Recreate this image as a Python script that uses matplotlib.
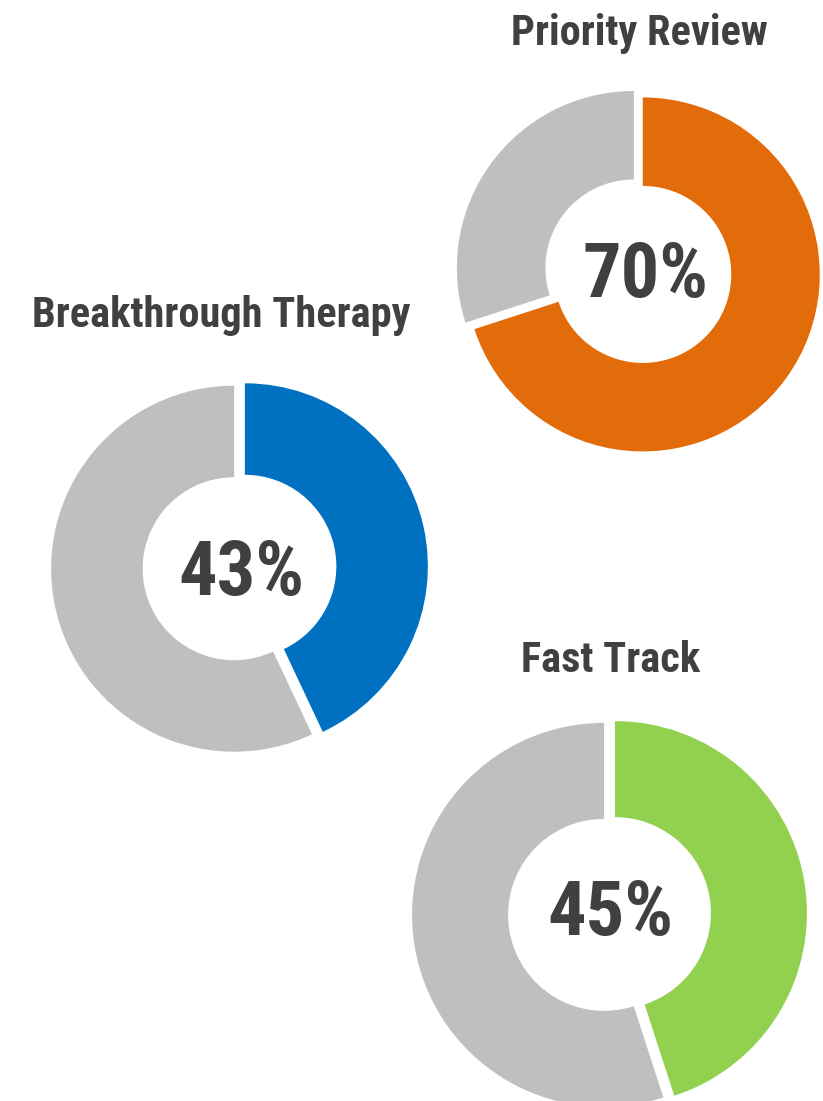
import matplotlib
matplotlib.use("Agg")
import matplotlib.pyplot as plt

# Data
titles = ["Priority Review", "Breakthrough Therapy", "Fast Track"]
percents = [70, 43, 45]
colors = ["#E36C0A", "#0070C0", "#92D050"]
rest_color = "#BFBFBF"
text_color = "#404040"

W, H = 823, 1101
fig = plt.figure(figsize=(W / 100, H / 100), dpi=100)
ax = fig.add_axes([0, 0, 1, 1])

# layout (pixel coordinates, y measured from top)
centers = [(638.3, 271.2), (239.5, 567.5), (609.5, 914.0)]
radii = [177, 183, 192]
title_pos = [(639, 45), (221, 327), (610.5, 672)]
pct_pos = [(645.5, 297), (241, 595), (610.5, 935)]

font = ["Roboto Condensed", "DejaVu Sans"]

for title, pct, col, (cx, cy), r, (tx, ty), (px, py) in zip(
        titles, percents, colors, centers, radii, title_pos, pct_pos):
    ax.pie([pct, 100 - pct], colors=[col, rest_color], startangle=90,
           counterclock=False, radius=r, center=(cx, H - cy),
           explode=[5.5, 5.5],
           wedgeprops=dict(width=0.5 * r, linewidth=0))
    ax.text(tx, H - ty, title, ha="center", va="baseline", fontsize=30.5,
            fontweight="bold", color=text_color, family=font)
    ax.text(px, H - py, f"{pct}%", ha="center", va="baseline", fontsize=55,
            fontweight="bold", color=text_color, family=font)

ax.set_xlim(0, W)
ax.set_ylim(0, H)
ax.set_aspect("equal")
ax.axis("off")

fig.savefig("out.png", dpi=100, facecolor="white")
